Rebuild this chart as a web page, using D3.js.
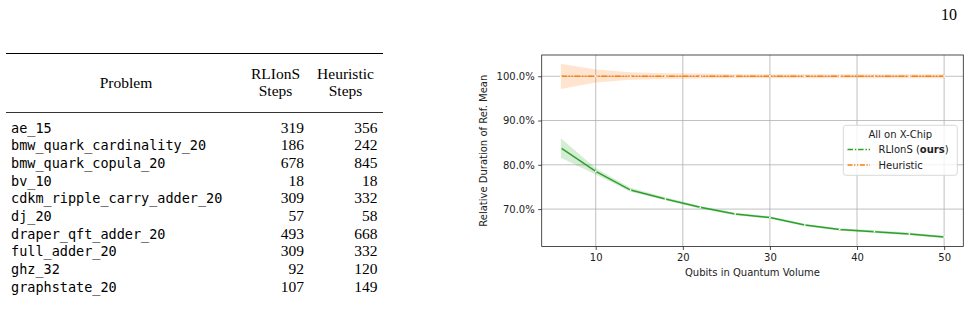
<!DOCTYPE html>
<html>
<head>
<meta charset="utf-8">
<script src="https://cdn.jsdelivr.net/npm/d3@7"></script>
<style>
  body { margin: 0; background: #fff; }
  svg { display: block; }
</style>
</head>
<body>
<svg id="page" width="972" height="310"></svg>
<script>
// table values
var problems = ['ae_15', 'bmw_quark_cardinality_20', 'bmw_quark_copula_20', 'bv_10',
	'cdkm_ripple_carry_adder_20', 'dj_20', 'draper_qft_adder_20', 'full_adder_20',
	'ghz_32', 'graphstate_20'];
var rlionsSteps = [319, 186, 678, 18, 309, 57, 493, 309, 92, 107];
var heuristicSteps = [356, 242, 845, 18, 332, 58, 668, 332, 120, 149];

// chart values (percent of reference mean)
var qubits = [6, 10, 14, 18, 22, 26, 30, 34, 38, 42, 46, 50];
var rlionsMean = [83.8, 78.5, 74.3, 72.3, 70.4, 68.9, 68.1, 66.4, 65.4, 64.9, 64.4, 63.7];
var rlionsLo = [81.6, 77.8, 73.9, 72.0, 70.1, 68.6, 67.8, 66.1, 65.1, 64.6, 64.1, 63.4];
var rlionsHi = [86.0, 79.2, 74.8, 72.7, 70.7, 69.2, 68.4, 66.7, 65.7, 65.2, 64.7, 64.0];
var heurMean = [100, 100, 100, 100, 100, 100, 100, 100, 100, 100, 100, 100];
var heurLo = [97.1, 98.6, 99.2, 99.4, 99.5, 99.55, 99.55, 99.55, 99.55, 99.55, 99.55, 99.55];
var heurHi = [102.8, 101.5, 100.9, 100.7, 100.6, 100.45, 100.45, 100.45, 100.45, 100.45, 100.45, 100.45];
var xTicks = [10, 20, 30, 40, 50];
var yTicks = [70, 80, 90, 100];

var svg = d3.select('#page');
var serif = '"Liberation Serif", "DejaVu Serif", serif';
var mono = '"DejaVu Sans Mono", "Liberation Mono", monospace';
var sans = '"DejaVu Sans", sans-serif';

// page number
svg.append('text').attr('x', 957).attr('y', 20).attr('text-anchor', 'end')
	.style('font-family', serif).style('font-size', '16px').text('10');

// ---- table ----
var tbl = svg.append('g');
tbl.append('line').attr('x1', 6).attr('x2', 383).attr('y1', 53.5).attr('y2', 53.5)
	.attr('stroke', '#000').attr('stroke-width', 1.2);
tbl.append('line').attr('x1', 6).attr('x2', 383).attr('y1', 112.5).attr('y2', 112.5)
	.attr('stroke', '#000').attr('stroke-width', 0.8);

var head = tbl.append('g').style('font-family', serif).style('font-size', '15.5px');
head.append('text').attr('x', 126).attr('y', 88).attr('text-anchor', 'middle').text('Problem');
head.append('text').attr('x', 275.5).attr('y', 78.5).attr('text-anchor', 'middle').text('RLIonS');
head.append('text').attr('x', 275.5).attr('y', 96).attr('text-anchor', 'middle').text('Steps');
head.append('text').attr('x', 345.5).attr('y', 78.5).attr('text-anchor', 'middle').text('Heuristic');
head.append('text').attr('x', 345.5).attr('y', 96).attr('text-anchor', 'middle').text('Steps');

var rowY = d3.scaleLinear().domain([0, problems.length - 1]).range([132.5, 291.5]);

var rows = tbl.selectAll('.row').data(problems).enter().append('g').attr('class', 'row');
rows.append('text')
	.attr('x', 11)
	.attr('y', function(d, i) { return rowY(i); })
	.style('font-family', mono).style('font-size', '13.5px')
	.text(function(d) { return d; });
rows.append('text')
	.attr('x', 304)
	.attr('y', function(d, i) { return rowY(i); })
	.attr('text-anchor', 'end')
	.style('font-family', serif).style('font-size', '15.5px')
	.text(function(d, i) { return rlionsSteps[i]; });
rows.append('text')
	.attr('x', 377.5)
	.attr('y', function(d, i) { return rowY(i); })
	.attr('text-anchor', 'end')
	.style('font-family', serif).style('font-size', '15.5px')
	.text(function(d, i) { return heuristicSteps[i]; });

// ---- chart ----
var plot = { left: 541.7, right: 963.3, top: 55, bottom: 246.5 };
var x = d3.scaleLinear().domain([3.8, 52.2]).range([plot.left, plot.right]);
var y = d3.scaleLinear().domain([61.55, 104.8]).range([plot.bottom, plot.top]);

var g = svg.append('g');

// grid
g.selectAll('.gx').data(xTicks).enter().append('line')
	.attr('x1', function(d) { return x(d); }).attr('x2', function(d) { return x(d); })
	.attr('y1', plot.top).attr('y2', plot.bottom)
	.attr('stroke', '#b0b0b0').attr('stroke-width', 0.8);
g.selectAll('.gy').data(yTicks).enter().append('line')
	.attr('y1', function(d) { return y(d); }).attr('y2', function(d) { return y(d); })
	.attr('x1', plot.left).attr('x2', plot.right)
	.attr('stroke', '#b0b0b0').attr('stroke-width', 0.8);

var idx = d3.range(qubits.length);

function band(lo, hi) {
	return d3.area()
		.x(function(i) { return x(qubits[i]); })
		.y0(function(i) { return y(lo[i]); })
		.y1(function(i) { return y(hi[i]); });
}
function line(vals) {
	return d3.line()
		.x(function(i) { return x(qubits[i]); })
		.y(function(i) { return y(vals[i]); });
}

g.append('path').datum(idx).attr('d', band(heurLo, heurHi))
	.attr('fill', '#ff7f0e').attr('fill-opacity', 0.2);
g.append('path').datum(idx).attr('d', band(rlionsLo, rlionsHi))
	.attr('fill', '#2ca02c').attr('fill-opacity', 0.2);

g.append('path').datum(idx).attr('d', line(rlionsMean))
	.attr('fill', 'none').attr('stroke', '#2ca02c').attr('stroke-width', 1.5);
g.append('path').datum(idx).attr('d', line(heurMean))
	.attr('fill', 'none').attr('stroke', '#ff7f0e').attr('stroke-width', 1.5)
	.attr('stroke-dasharray', '6,1.5,1.5,1.5,1.5,1.5');

// small white markers at the data points
[rlionsMean, heurMean].forEach(function(vals) {
	g.selectAll(null).data(idx).enter().append('circle')
		.attr('cx', function(i) { return x(qubits[i]); })
		.attr('cy', function(i) { return y(vals[i]); })
		.attr('r', 0.9).attr('fill', '#fff');
});

// axes
var xAxis = d3.axisBottom(x).tickValues(xTicks).tickSize(3.5).tickPadding(3.5);
var yAxis = d3.axisLeft(y).tickValues(yTicks).tickSize(3.5).tickPadding(3.5)
	.tickFormat(function(d) { return d3.format('.1f')(d) + '%'; });

var xg = g.append('g').attr('transform', 'translate(0,' + plot.bottom + ')').call(xAxis);
var yg = g.append('g').attr('transform', 'translate(' + plot.left + ',0)').call(yAxis);
[xg, yg].forEach(function(a) {
	a.select('.domain').remove();
	a.selectAll('line').attr('stroke', '#222').attr('stroke-width', 0.8);
	a.selectAll('text').attr('fill', '#222').style('font-family', sans).style('font-size', '10px');
});

g.append('rect').attr('x', plot.left).attr('y', plot.top)
	.attr('width', plot.right - plot.left).attr('height', plot.bottom - plot.top)
	.attr('fill', 'none').attr('stroke', '#222').attr('stroke-width', 0.8);

g.append('text').attr('x', (plot.left + plot.right) / 2).attr('y', 276)
	.attr('text-anchor', 'middle').attr('fill', '#222')
	.style('font-family', sans).style('font-size', '10px')
	.text('Qubits in Quantum Volume');
g.append('text').attr('transform', 'translate(487,' + (plot.top + plot.bottom) / 2 + ') rotate(-90)')
	.attr('text-anchor', 'middle').attr('fill', '#222')
	.style('font-family', sans).style('font-size', '10px')
	.text('Relative Duration of Ref. Mean');

// legend
var lg = g.append('g');
lg.append('rect').attr('x', 843.3).attr('y', 125.3).attr('width', 114).attr('height', 50)
	.attr('rx', 2.5).attr('fill', '#fff').attr('fill-opacity', 0.8)
	.attr('stroke', '#d0d0d0').attr('stroke-width', 0.8);
lg.append('text').attr('x', 900.3).attr('y', 137.8).attr('text-anchor', 'middle')
	.attr('fill', '#222').style('font-family', sans).style('font-size', '10px')
	.text('All on X-Chip');

var legendItems = [
	{ color: '#2ca02c', dash: '5.5,1.8,1.5,1.8', y: 149.5 },
	{ color: '#ff7f0e', dash: '5,1.6,1.3,1.6,1.3,1.6', y: 165 }
];
legendItems.forEach(function(d) {
	lg.append('line').attr('x1', 847.5).attr('x2', 870).attr('y1', d.y).attr('y2', d.y)
		.attr('stroke', d.color).attr('stroke-width', 1.5).attr('stroke-dasharray', d.dash);
});
var t1 = lg.append('text').attr('x', 878.5).attr('y', 153.2).attr('fill', '#222')
	.style('font-family', sans).style('font-size', '10px');
t1.append('tspan').text('RLIonS (');
t1.append('tspan').style('font-weight', 'bold').text('ours');
t1.append('tspan').text(')');
lg.append('text').attr('x', 878.5).attr('y', 168.7).attr('fill', '#222')
	.style('font-family', sans).style('font-size', '10px').text('Heuristic');
</script>
</body>
</html>
